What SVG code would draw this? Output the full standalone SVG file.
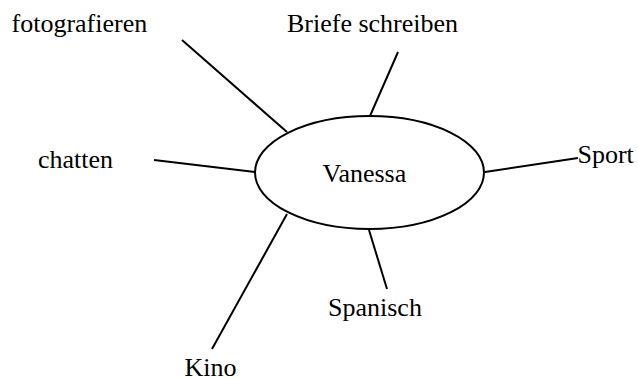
<svg xmlns="http://www.w3.org/2000/svg" width="638" height="378" viewBox="0 0 638 378">
<style>
.t{font-family:"Liberation Serif","Times New Roman",serif;font-size:26px;fill:#000}
.c line{stroke:#000;stroke-width:2;stroke-linecap:butt}
</style>
<rect width="638" height="378" fill="#fff"/>
<g class="c" id="connectors">
<line x1="182" y1="40" x2="287" y2="132"/>
<line x1="398" y1="52" x2="370" y2="116"/>
<line x1="154" y1="160" x2="255" y2="172"/>
<line x1="485" y1="172" x2="578" y2="158"/>
<line x1="287" y1="214" x2="212" y2="349"/>
<line x1="369" y1="230" x2="387" y2="289"/>
</g>
<g id="vanessa">
<ellipse cx="369.5" cy="172.5" rx="114.5" ry="56.5" fill="#fff" stroke="#000" stroke-width="2"/>
<text class="t" x="322.5" y="182.3">Vanessa</text>
</g>
<g id="fotografieren"><text class="t" x="11.5" y="32.3">fotografieren</text></g>
<g id="briefe"><text class="t" x="287" y="32.3">Briefe schreiben</text></g>
<g id="chatten"><text class="t" x="38" y="168.3">chatten</text></g>
<g id="sport"><text class="t" x="577.5" y="163">Sport</text></g>
<g id="spanisch"><text class="t" x="328" y="316">Spanisch</text></g>
<g id="kino"><text class="t" x="184.5" y="376">Kino</text></g>
</svg>
